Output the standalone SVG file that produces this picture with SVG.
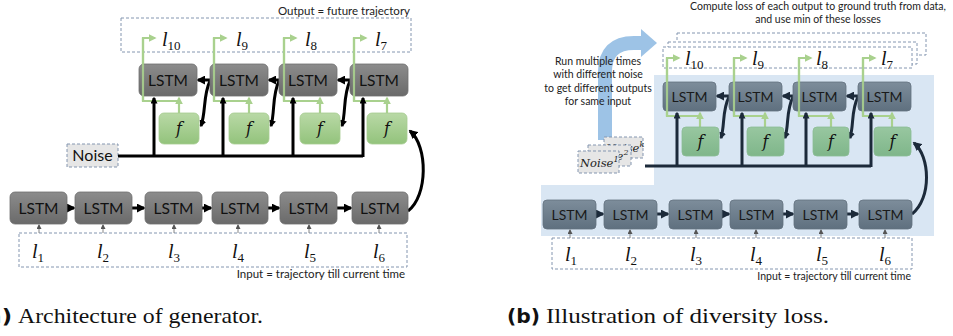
<svg xmlns="http://www.w3.org/2000/svg" width="953" height="336" viewBox="0 0 953 336">
<defs>
<linearGradient id="gL" x1="0" y1="0" x2="0" y2="1"><stop offset="0" stop-color="#8c8c8c"/><stop offset="1" stop-color="#6a6a6a"/></linearGradient>
<linearGradient id="gR" x1="0" y1="0" x2="0" y2="1"><stop offset="0" stop-color="#7d8d9b"/><stop offset="1" stop-color="#5f707f"/></linearGradient>
<linearGradient id="gF" x1="0" y1="0" x2="0" y2="1"><stop offset="0" stop-color="#b9d9a6"/><stop offset="1" stop-color="#93c37c"/></linearGradient>
<linearGradient id="gF2" x1="0" y1="0" x2="0" y2="1"><stop offset="0" stop-color="#98c7a0"/><stop offset="1" stop-color="#7fb68a"/></linearGradient>
<marker id="ak" viewBox="0 0 10 10" refX="8" refY="5" markerWidth="9" markerHeight="9" markerUnits="userSpaceOnUse" orient="auto"><path d="M0,0 L10,5 L0,10 z" fill="#000"/></marker>
<marker id="an" viewBox="0 0 10 10" refX="8" refY="5" markerWidth="9" markerHeight="9" markerUnits="userSpaceOnUse" orient="auto"><path d="M0,0 L10,5 L0,10 z" fill="#1c2a3a"/></marker>
<marker id="ag" viewBox="0 0 10 10" refX="8" refY="5" markerWidth="8" markerHeight="8" markerUnits="userSpaceOnUse" orient="auto"><path d="M0,0 L10,5 L0,10 z" fill="#a9d18e"/></marker>
<marker id="as" viewBox="0 0 10 10" refX="8" refY="5" markerWidth="5" markerHeight="5" markerUnits="userSpaceOnUse" orient="auto"><path d="M0,0 L10,5 L0,10 z" fill="#555"/></marker>
<marker id="ak2" viewBox="0 0 10 10" refX="8" refY="5" markerWidth="7" markerHeight="7" markerUnits="userSpaceOnUse" orient="auto"><path d="M0,0 L10,5 L0,10 z" fill="#000"/></marker>
<marker id="an2" viewBox="0 0 10 10" refX="8" refY="5" markerWidth="7" markerHeight="7" markerUnits="userSpaceOnUse" orient="auto"><path d="M0,0 L10,5 L0,10 z" fill="#1c2a3a"/></marker>
</defs>
<style>
.lstmL{fill:url(#gL);stroke:#6f6f6f;stroke-width:0.8}
.lstmR{fill:url(#gR);stroke:#63717f;stroke-width:0.8}
.fL{fill:url(#gF);stroke:#a6cc90;stroke-width:0.8}
.fR{fill:url(#gF2);stroke:#8cbc95;stroke-width:0.8}
.lt{font-family:Lato,"Open Sans",sans-serif;font-size:15.5px;fill:#111;text-anchor:middle}
.ltR{font-family:Lato,"Open Sans",sans-serif;font-size:14px;fill:#1a1a1a;text-anchor:middle}
.fx{font-family:"DejaVu Serif","Liberation Serif",serif;font-style:italic;font-size:16px;fill:#111;text-anchor:middle}
.nz{font-family:"DejaVu Serif","Liberation Serif",serif;font-style:italic;font-size:11.5px;fill:#222}
.math{font-family:"Liberation Serif","DejaVu Serif",serif;font-style:italic;font-size:20px;fill:#111}
.sub{font-family:"Liberation Serif","DejaVu Serif",serif;font-style:normal;font-size:13px}
.small{font-family:Lato,"Open Sans",sans-serif;font-size:10.5px;fill:#222}
.smallL{font-family:Lato,"Open Sans",sans-serif;font-size:11.5px;fill:#222}
.dash{fill:none;stroke:#8496b0;stroke-width:1;stroke-dasharray:3,2}
.dashw{fill:#fff;stroke:#8496b0;stroke-width:1;stroke-dasharray:3,2}
.blk{fill:none;stroke:#000;stroke-width:3}
.nav{fill:none;stroke:#1c2a3a;stroke-width:3}
.grn{fill:none;stroke:#a9d18e;stroke-width:2.2}
.gry{fill:none;stroke:#666;stroke-width:0.8}
.cap{font-family:"Liberation Serif","DejaVu Serif",serif;font-size:22px;fill:#111}
.capb{font-family:"DejaVu Sans","Liberation Sans",sans-serif;font-weight:bold;font-size:20px;fill:#111}
</style>
<rect width="953" height="336" fill="#fff"/>

<!-- ===== Left panel ===== -->
<g id="outputBoxA">
<rect class="dash" x="121" y="18" width="290" height="34"/>
<text class="smallL" x="410" y="15" text-anchor="end">Output = future trajectory</text>
<text class="math" x="162" y="46">l<tspan class="sub" dy="4">10</tspan></text>
<text class="math" x="236" y="46">l<tspan class="sub" dy="4">9</tspan></text>
<text class="math" x="305" y="46">l<tspan class="sub" dy="4">8</tspan></text>
<text class="math" x="375" y="46">l<tspan class="sub" dy="4">7</tspan></text>
</g>
<g id="inputBoxA">
<rect class="dash" x="19" y="233" width="388" height="34"/>
<text class="smallL" x="405" y="278" text-anchor="end">Input = trajectory till current time</text>
<text class="math" x="32" y="258">l<tspan class="sub" dy="4">1</tspan></text>
<text class="math" x="97" y="258">l<tspan class="sub" dy="4">2</tspan></text>
<text class="math" x="168" y="258">l<tspan class="sub" dy="4">3</tspan></text>
<text class="math" x="232" y="258">l<tspan class="sub" dy="4">4</tspan></text>
<text class="math" x="304" y="258">l<tspan class="sub" dy="4">5</tspan></text>
<text class="math" x="373" y="258">l<tspan class="sub" dy="4">6</tspan></text>
</g>
<g id="noiseA">
<rect x="67" y="144" width="51" height="23" fill="#e6e6e6" stroke="#8496b0" stroke-dasharray="3,2"/>
<text class="lt" x="92.5" y="161" style="font-size:16px">Noise</text>
</g>

<g id="connectorsA">
<path class="grn" d="M179,113 V98" marker-end="url(#ag)"/>
<path class="grn" d="M179,101 H143 V38 H155" marker-end="url(#ag)"/>
<path class="grn" d="M249,113 V98" marker-end="url(#ag)"/>
<path class="grn" d="M249,101 H214 V38 H226" marker-end="url(#ag)"/>
<path class="grn" d="M320,113 V98" marker-end="url(#ag)"/>
<path class="grn" d="M320,101 H284 V38 H296" marker-end="url(#ag)"/>
<path class="grn" d="M387,113 V98" marker-end="url(#ag)"/>
<path class="grn" d="M387,101 H354 V38 H366" marker-end="url(#ag)"/>
<path class="blk" d="M118,156 H363"/>
<path class="blk" d="M154,157 V98" marker-end="url(#ak2)"/>
<path class="blk" d="M223,157 V98" marker-end="url(#ak2)"/>
<path class="blk" d="M293,157 V98" marker-end="url(#ak2)"/>
<path class="blk" d="M363,157 V98" marker-end="url(#ak2)"/>
<path class="blk" d="M211,80 H198" marker-end="url(#ak)"/>
<path class="blk" d="M280,80 H269" marker-end="url(#ak)"/>
<path class="blk" d="M351,80 H338" marker-end="url(#ak)"/>
<path class="blk" d="M210,81 C203,95 206,112 201,126" marker-end="url(#ak2)"/>
<path class="blk" d="M279,81 C272,95 275,112 271,126" marker-end="url(#ak2)"/>
<path class="blk" d="M350,81 C343,95 346,112 342,126" marker-end="url(#ak2)"/>
<path class="blk" d="M67,208 H74" marker-end="url(#ak)"/>
<path class="blk" d="M132,208 H144" marker-end="url(#ak)"/>
<path class="blk" d="M202,208 H211" marker-end="url(#ak)"/>
<path class="blk" d="M268,208 H279" marker-end="url(#ak)"/>
<path class="blk" d="M337,208 H351" marker-end="url(#ak)"/>
<path class="blk" d="M408,211 C428,196 428,146 410,131" marker-end="url(#ak)"/>
<path class="gry" d="M39,233 V225" marker-end="url(#as)"/>
<path class="gry" d="M103,233 V225" marker-end="url(#as)"/>
<path class="gry" d="M174,233 V225" marker-end="url(#as)"/>
<path class="gry" d="M238,233 V225" marker-end="url(#as)"/>
<path class="gry" d="M309,233 V225" marker-end="url(#as)"/>
<path class="gry" d="M379,233 V225" marker-end="url(#as)"/>
</g>

<g id="lstmA_t1"><rect class="lstmL" x="139" y="64" width="58" height="32" rx="5"/><text class="lt" x="168" y="85.5">LSTM</text></g>
<g id="lstmA_t2"><rect class="lstmL" x="210" y="64" width="58" height="32" rx="5"/><text class="lt" x="239" y="85.5">LSTM</text></g>
<g id="lstmA_t3"><rect class="lstmL" x="279" y="64" width="58" height="32" rx="5"/><text class="lt" x="308" y="85.5">LSTM</text></g>
<g id="lstmA_t4"><rect class="lstmL" x="350" y="64" width="58" height="32" rx="5"/><text class="lt" x="379" y="85.5">LSTM</text></g>
<g id="fA1"><rect class="fL" x="159" y="113" width="40" height="31" rx="5"/><text class="fx" x="179" y="134">f</text></g>
<g id="fA2"><rect class="fL" x="229" y="113" width="40" height="31" rx="5"/><text class="fx" x="249" y="134">f</text></g>
<g id="fA3"><rect class="fL" x="300" y="113" width="40" height="31" rx="5"/><text class="fx" x="320" y="134">f</text></g>
<g id="fA4"><rect class="fL" x="367" y="113" width="40" height="31" rx="5"/><text class="fx" x="387" y="134">f</text></g>
<g id="greenOverA" opacity="0.9">
<path class="grn" d="M143,101 V38"/><path class="grn" d="M214,101 V38"/><path class="grn" d="M284,101 V38"/><path class="grn" d="M354,101 V38"/>
</g>
<g id="lstmA_b1"><rect class="lstmL" x="10" y="192" width="57" height="32" rx="5"/><text class="lt" x="38.5" y="213.5">LSTM</text></g>
<g id="lstmA_b2"><rect class="lstmL" x="75" y="192" width="57" height="32" rx="5"/><text class="lt" x="103.5" y="213.5">LSTM</text></g>
<g id="lstmA_b3"><rect class="lstmL" x="145" y="192" width="57" height="32" rx="5"/><text class="lt" x="173.5" y="213.5">LSTM</text></g>
<g id="lstmA_b4"><rect class="lstmL" x="212" y="192" width="56" height="32" rx="5"/><text class="lt" x="240" y="213.5">LSTM</text></g>
<g id="lstmA_b5"><rect class="lstmL" x="280" y="192" width="57" height="32" rx="5"/><text class="lt" x="308.5" y="213.5">LSTM</text></g>
<g id="lstmA_b6"><rect class="lstmL" x="352" y="192" width="56" height="32" rx="5"/><text class="lt" x="380" y="213.5">LSTM</text></g>
<text class="capb" x="-24" y="323" textLength="36" lengthAdjust="spacingAndGlyphs">(a)</text>
<text class="cap" x="18" y="323" textLength="245" lengthAdjust="spacingAndGlyphs">Architecture of generator.</text>

<!-- ===== Right panel ===== -->
<path d="M654,75 H934 V236 H541 V185 H654 Z" fill="#d9e6f3"/>
<g id="blueArrow">
<path d="M605,140 V72 Q605,43 634,43 H643" fill="none" stroke="#9dc3e6" stroke-width="14"/>
<path d="M641,29 L657,43 L641,57 Z" fill="#9dc3e6"/>
</g>
<g id="runText">
<text class="small" x="598" y="65" text-anchor="middle">Run multiple times</text>
<text class="small" x="598" y="78" text-anchor="middle">with different noise</text>
<text class="small" x="598" y="92" text-anchor="middle">to get different outputs</text>
<text class="small" x="598" y="105" text-anchor="middle">for same input</text>
</g>
<g id="computeText">
<text class="small" x="818" y="10" text-anchor="middle">Compute loss of each output to ground truth from data,</text>
<text class="small" x="818" y="23" text-anchor="middle">and use min of these losses</text>
</g>
<g id="outputStackB">
<rect class="dashw" x="677" y="33" width="249" height="22"/>
<rect class="dashw" x="668" y="42" width="249" height="22"/>
<rect class="dashw" x="663" y="47" width="249" height="21"/>
<text class="math" x="685" y="65">l<tspan class="sub" dy="4">10</tspan></text>
<text class="math" x="752" y="65">l<tspan class="sub" dy="4">9</tspan></text>
<text class="math" x="816" y="65">l<tspan class="sub" dy="4">8</tspan></text>
<text class="math" x="881" y="65">l<tspan class="sub" dy="4">7</tspan></text>
</g>
<g id="noiseStackB">
<rect x="604" y="137" width="39" height="21" fill="#e6e6e6" stroke="#8496b0" stroke-dasharray="3,2"/>
<text class="nz" x="606" y="152">Noise<tspan style="font-size:8px" dy="-5">k</tspan></text>
<rect x="588" y="145" width="43" height="21" fill="#e6e6e6" stroke="#8496b0" stroke-dasharray="3,2"/>
<text class="nz" x="590" y="160">Noise<tspan style="font-size:8px" dy="-5">2</tspan></text>
<rect x="578" y="151" width="41" height="22" fill="#e6e6e6" stroke="#8496b0" stroke-dasharray="3,2"/>
<text class="nz" x="580" y="166.5">Noise<tspan style="font-size:8px" dy="-5">1</tspan></text>
</g>
<g id="inputBoxB">
<rect class="dash" x="552" y="238" width="360" height="31"/>
<text class="small" x="911" y="280" text-anchor="end">Input = trajectory till current time</text>
<text class="math" x="565" y="261">l<tspan class="sub" dy="4">1</tspan></text>
<text class="math" x="625" y="261">l<tspan class="sub" dy="4">2</tspan></text>
<text class="math" x="690" y="261">l<tspan class="sub" dy="4">3</tspan></text>
<text class="math" x="750" y="261">l<tspan class="sub" dy="4">4</tspan></text>
<text class="math" x="816" y="261">l<tspan class="sub" dy="4">5</tspan></text>
<text class="math" x="879" y="261">l<tspan class="sub" dy="4">6</tspan></text>
</g>

<g id="connectorsB">
<path class="grn" d="M700,127 V113" marker-end="url(#ag)"/>
<path class="grn" d="M700,116 H667 V58 H679" marker-end="url(#ag)"/>
<path class="grn" d="M765,127 V113" marker-end="url(#ag)"/>
<path class="grn" d="M765,116 H734 V58 H746" marker-end="url(#ag)"/>
<path class="grn" d="M831,127 V113" marker-end="url(#ag)"/>
<path class="grn" d="M831,116 H799 V58 H811" marker-end="url(#ag)"/>
<path class="grn" d="M892,127 V113" marker-end="url(#ag)"/>
<path class="grn" d="M892,116 H863 V58 H875" marker-end="url(#ag)"/>
<path class="nav" d="M645,166 H871"/>
<path class="nav" d="M677,167 V113" marker-end="url(#an2)"/>
<path class="nav" d="M742,167 V113" marker-end="url(#an2)"/>
<path class="nav" d="M806,167 V113" marker-end="url(#an2)"/>
<path class="nav" d="M871,167 V113" marker-end="url(#an2)"/>
<path class="nav" d="M730,96 H717" marker-end="url(#an)"/>
<path class="nav" d="M794,96 H783" marker-end="url(#an)"/>
<path class="nav" d="M859,96 H847" marker-end="url(#an)"/>
<path class="nav" d="M729,97 C722,110 725,125 721,138" marker-end="url(#an2)"/>
<path class="nav" d="M793,97 C786,110 789,125 785,138" marker-end="url(#an2)"/>
<path class="nav" d="M858,97 C851,110 854,125 850,138" marker-end="url(#an2)"/>
<path class="nav" d="M596,214 H603" marker-end="url(#an)"/>
<path class="nav" d="M657,214 H668" marker-end="url(#an)"/>
<path class="nav" d="M722,214 H729" marker-end="url(#an)"/>
<path class="nav" d="M783,214 H793" marker-end="url(#an)"/>
<path class="nav" d="M847,214 H858" marker-end="url(#an)"/>
<path class="nav" d="M912,214 C932,198 930,156 914,143" marker-end="url(#an)"/>
<path class="gry" d="M570,238 V230" marker-end="url(#as)"/>
<path class="gry" d="M630,238 V230" marker-end="url(#as)"/>
<path class="gry" d="M696,238 V230" marker-end="url(#as)"/>
<path class="gry" d="M756,238 V230" marker-end="url(#as)"/>
<path class="gry" d="M821,238 V230" marker-end="url(#as)"/>
<path class="gry" d="M885,238 V230" marker-end="url(#as)"/>
</g>

<g id="lstmB_t1"><rect class="lstmR" x="663" y="82" width="53" height="29" rx="4"/><text class="ltR" x="689.5" y="101.5">LSTM</text></g>
<g id="lstmB_t2"><rect class="lstmR" x="729" y="82" width="53" height="29" rx="4"/><text class="ltR" x="755.5" y="101.5">LSTM</text></g>
<g id="lstmB_t3"><rect class="lstmR" x="793" y="82" width="53" height="29" rx="4"/><text class="ltR" x="819.5" y="101.5">LSTM</text></g>
<g id="lstmB_t4"><rect class="lstmR" x="858" y="82" width="53" height="29" rx="4"/><text class="ltR" x="884.5" y="101.5">LSTM</text></g>
<g id="fB1"><rect class="fR" x="682" y="127" width="37" height="29" rx="4"/><text class="fx" x="700.5" y="147">f</text></g>
<g id="fB2"><rect class="fR" x="747" y="127" width="37" height="29" rx="4"/><text class="fx" x="765.5" y="147">f</text></g>
<g id="fB3"><rect class="fR" x="813" y="127" width="36" height="29" rx="4"/><text class="fx" x="831" y="147">f</text></g>
<g id="fB4"><rect class="fR" x="874" y="127" width="37" height="29" rx="4"/><text class="fx" x="892.5" y="147">f</text></g>
<g id="greenOverB" opacity="0.9">
<path class="grn" d="M667,116 V58"/><path class="grn" d="M734,116 V58"/><path class="grn" d="M799,116 V58"/><path class="grn" d="M863,116 V58"/>
</g>
<g id="lstmB_b1"><rect class="lstmR" x="543" y="200" width="53" height="29" rx="4"/><text class="ltR" x="569.5" y="219.5">LSTM</text></g>
<g id="lstmB_b2"><rect class="lstmR" x="604" y="200" width="53" height="29" rx="4"/><text class="ltR" x="630.5" y="219.5">LSTM</text></g>
<g id="lstmB_b3"><rect class="lstmR" x="669" y="200" width="53" height="29" rx="4"/><text class="ltR" x="695.5" y="219.5">LSTM</text></g>
<g id="lstmB_b4"><rect class="lstmR" x="730" y="200" width="53" height="29" rx="4"/><text class="ltR" x="756.5" y="219.5">LSTM</text></g>
<g id="lstmB_b5"><rect class="lstmR" x="794" y="200" width="53" height="29" rx="4"/><text class="ltR" x="820.5" y="219.5">LSTM</text></g>
<g id="lstmB_b6"><rect class="lstmR" x="859" y="200" width="53" height="29" rx="4"/><text class="ltR" x="885.5" y="219.5">LSTM</text></g>
<text class="capb" x="507" y="323" textLength="33" lengthAdjust="spacingAndGlyphs">(b)</text>
<text class="cap" x="546" y="323" textLength="283" lengthAdjust="spacingAndGlyphs">Illustration of diversity loss.</text>
</svg>
